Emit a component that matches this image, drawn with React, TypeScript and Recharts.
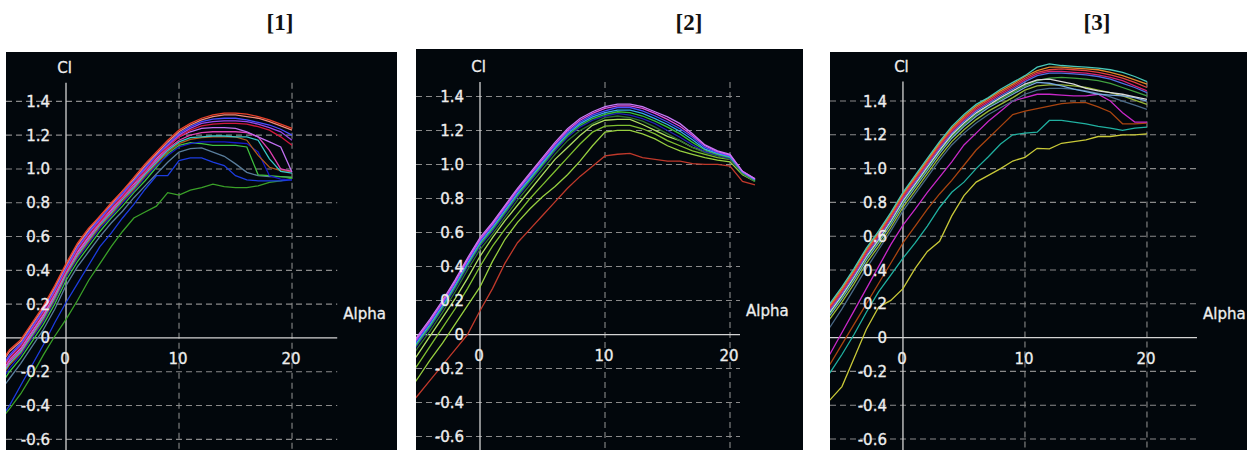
import React from "react";
import { LineChart, Line, XAxis, YAxis, ReferenceLine, ReferenceDot } from "recharts";

// ---- shared axis ticks ----
const clTicks = [1.4, 1.2, 1.0, 0.8, 0.6, 0.4, 0.2, 0, -0.2, -0.4, -0.6];
const clTickLabels = ["1.4", "1.2", "1.0", "0.8", "0.6", "0.4", "0.2", "0", "-0.2", "-0.4", "-0.6"];
const alphaTicks = [0, 10, 20];
const alphaTickLabels = ["0", "10", "20"];

// ---- polar [1] ----
const alpha1 = [-6, -5, -4, -3, -2, -1, 0, 1, 2, 3, 4, 5, 6, 7, 8, 9, 10, 11, 12, 13, 14, 15, 16, 17, 18, 19, 20];
const p1GreenLow = [-0.50, -0.42, -0.33, -0.22, -0.10, 0.01, 0.11, 0.22, 0.34, 0.44, 0.54, 0.63, 0.71, 0.745, 0.78, 0.86, 0.845, 0.875, 0.89, 0.91, 0.895, 0.89, 0.89, 0.90, 0.92, 0.93, 0.945];
const p1BlueLow = [-0.50, -0.40, -0.28, -0.16, -0.04, 0.09, 0.21, 0.32, 0.43, 0.54, 0.62, 0.71, 0.79, 0.88, 0.96, 0.96, 1.05, 1.065, 1.065, 1.04, 1.02, 0.96, 0.935, 0.93, 0.93, 0.93, 0.935];
const p1Slate = [-0.33, -0.24, -0.15, -0.05, 0.05, 0.17, 0.31, 0.42, 0.51, 0.60, 0.68, 0.75, 0.83, 0.90, 0.97, 1.04, 1.10, 1.12, 1.125, 1.10, 1.075, 1.03, 0.98, 0.96, 0.955, 0.955, 0.95];
const p1Green = [-0.30, -0.20, -0.12, -0.02, 0.08, 0.20, 0.34, 0.45, 0.54, 0.63, 0.71, 0.78, 0.86, 0.93, 1.01, 1.09, 1.14, 1.155, 1.15, 1.14, 1.14, 1.14, 1.13, 0.965, 0.96, 0.955, 0.95];
const p1Navy = [-0.28, -0.18, -0.10, 0.0, 0.10, 0.22, 0.36, 0.47, 0.56, 0.65, 0.72, 0.80, 0.87, 0.95, 1.02, 1.08, 1.13, 1.15, 1.16, 1.16, 1.16, 1.155, 1.15, 1.10, 0.96, 0.94, 0.935];
const p1Brown = [-0.26, -0.16, -0.09, 0.01, 0.11, 0.23, 0.37, 0.48, 0.57, 0.66, 0.73, 0.81, 0.88, 0.96, 1.03, 1.10, 1.15, 1.175, 1.185, 1.19, 1.19, 1.19, 1.17, 1.08, 1.01, 0.99, 0.985];
const p1Teal = [-0.25, -0.15, -0.08, 0.02, 0.12, 0.24, 0.38, 0.49, 0.58, 0.67, 0.74, 0.82, 0.89, 0.97, 1.04, 1.11, 1.16, 1.185, 1.19, 1.195, 1.195, 1.19, 1.19, 1.17, 1.06, 0.985, 0.975];
const p1Pink = [-0.24, -0.14, -0.07, 0.03, 0.13, 0.25, 0.39, 0.50, 0.59, 0.68, 0.75, 0.83, 0.90, 0.98, 1.05, 1.12, 1.17, 1.20, 1.215, 1.22, 1.22, 1.22, 1.215, 1.19, 1.11, 1.00, 0.985];
const p1Violet = [-0.23, -0.13, -0.06, 0.04, 0.14, 0.26, 0.40, 0.51, 0.60, 0.69, 0.76, 0.84, 0.91, 0.99, 1.06, 1.13, 1.19, 1.22, 1.24, 1.245, 1.245, 1.24, 1.22, 1.19, 1.16, 1.13, 0.98];
const p1Crimson = [-0.22, -0.12, -0.05, 0.05, 0.15, 0.27, 0.40, 0.52, 0.61, 0.69, 0.77, 0.84, 0.92, 0.99, 1.07, 1.13, 1.19, 1.23, 1.255, 1.265, 1.27, 1.27, 1.265, 1.25, 1.23, 1.19, 1.14];
const p1Purple = [-0.21, -0.11, -0.04, 0.06, 0.16, 0.28, 0.41, 0.53, 0.62, 0.70, 0.78, 0.85, 0.93, 1.00, 1.08, 1.14, 1.20, 1.24, 1.27, 1.28, 1.285, 1.285, 1.28, 1.265, 1.245, 1.22, 1.17];
const p1Blue = [-0.20, -0.10, -0.03, 0.07, 0.17, 0.29, 0.42, 0.54, 0.63, 0.71, 0.78, 0.86, 0.93, 1.01, 1.08, 1.15, 1.21, 1.25, 1.28, 1.295, 1.30, 1.30, 1.29, 1.275, 1.26, 1.235, 1.20];
const p1Salmon = [-0.18, -0.08, -0.02, 0.08, 0.18, 0.30, 0.43, 0.55, 0.64, 0.72, 0.79, 0.87, 0.94, 1.02, 1.09, 1.16, 1.22, 1.26, 1.29, 1.31, 1.32, 1.32, 1.31, 1.30, 1.28, 1.255, 1.23];
const p1Red = [-0.17, -0.07, -0.01, 0.09, 0.19, 0.31, 0.44, 0.56, 0.65, 0.72, 0.80, 0.87, 0.95, 1.03, 1.10, 1.17, 1.23, 1.27, 1.30, 1.32, 1.33, 1.33, 1.325, 1.31, 1.29, 1.265, 1.24];

// ---- polar [2] ----
const alpha2 = [-6, -5, -4, -3, -2, -1, 0, 1, 2, 3, 4, 5, 6, 7, 8, 9, 10, 11, 12, 13, 14, 15, 16, 17, 18, 19, 20, 21, 22];
const p2Red = [-0.45, -0.36, -0.27, -0.18, -0.09, 0.0, 0.14, 0.27, 0.42, 0.54, 0.62, 0.70, 0.78, 0.86, 0.93, 0.99, 1.05, 1.06, 1.065, 1.04, 1.03, 1.02, 1.02, 1.005, 1.0, 1.0, 0.99, 0.90, 0.88];
const p2YellowGreen = [-0.36, -0.26, -0.15, -0.05, 0.06, 0.17, 0.28, 0.43, 0.56, 0.66, 0.74, 0.81, 0.87, 0.94, 1.02, 1.11, 1.19, 1.20, 1.20, 1.18, 1.15, 1.11, 1.08, 1.06, 1.04, 1.025, 1.015, 0.94, 0.90];
const p2Olive = [-0.28, -0.18, -0.07, 0.04, 0.15, 0.27, 0.40, 0.52, 0.62, 0.71, 0.80, 0.88, 0.96, 1.04, 1.12, 1.19, 1.225, 1.23, 1.23, 1.21, 1.18, 1.14, 1.11, 1.08, 1.06, 1.04, 1.03, 0.95, 0.905];
const p2Lime = [-0.22, -0.12, -0.01, 0.10, 0.21, 0.33, 0.46, 0.57, 0.67, 0.76, 0.85, 0.94, 1.03, 1.10, 1.17, 1.23, 1.26, 1.265, 1.265, 1.235, 1.20, 1.165, 1.14, 1.10, 1.075, 1.06, 1.05, 0.95, 0.91];
const p2DarkGreen = [-0.19, -0.08, 0.02, 0.13, 0.25, 0.38, 0.50, 0.59, 0.69, 0.79, 0.88, 0.97, 1.06, 1.14, 1.20, 1.24, 1.275, 1.285, 1.275, 1.255, 1.22, 1.18, 1.14, 1.10, 1.07, 1.05, 1.03, 0.945, 0.90];
const p2Navy = [-0.17, -0.06, 0.04, 0.15, 0.27, 0.40, 0.52, 0.61, 0.71, 0.81, 0.90, 0.99, 1.08, 1.16, 1.22, 1.26, 1.285, 1.30, 1.29, 1.27, 1.24, 1.20, 1.16, 1.115, 1.075, 1.055, 1.035, 0.95, 0.905];
const p2Green = [-0.16, -0.05, 0.05, 0.16, 0.28, 0.41, 0.53, 0.62, 0.72, 0.82, 0.91, 1.00, 1.09, 1.17, 1.23, 1.27, 1.295, 1.31, 1.305, 1.285, 1.255, 1.22, 1.18, 1.13, 1.085, 1.06, 1.04, 0.95, 0.905];
const p2Cyan = [-0.15, -0.04, 0.06, 0.17, 0.29, 0.42, 0.54, 0.63, 0.73, 0.83, 0.92, 1.01, 1.10, 1.18, 1.24, 1.28, 1.305, 1.32, 1.32, 1.30, 1.27, 1.235, 1.195, 1.145, 1.09, 1.065, 1.045, 0.955, 0.91];
const p2Blue = [-0.14, -0.03, 0.07, 0.18, 0.30, 0.43, 0.55, 0.64, 0.74, 0.84, 0.93, 1.02, 1.11, 1.19, 1.25, 1.29, 1.315, 1.335, 1.335, 1.315, 1.285, 1.25, 1.21, 1.16, 1.10, 1.07, 1.05, 0.955, 0.91];
const p2Magenta = [-0.13, -0.02, 0.08, 0.19, 0.31, 0.44, 0.56, 0.65, 0.75, 0.85, 0.94, 1.03, 1.12, 1.20, 1.26, 1.30, 1.33, 1.345, 1.345, 1.33, 1.30, 1.265, 1.225, 1.17, 1.11, 1.075, 1.055, 0.96, 0.915];
const p2Violet = [-0.12, -0.01, 0.09, 0.20, 0.32, 0.45, 0.57, 0.66, 0.76, 0.86, 0.95, 1.04, 1.13, 1.21, 1.27, 1.31, 1.34, 1.355, 1.355, 1.34, 1.31, 1.28, 1.24, 1.18, 1.115, 1.08, 1.06, 0.96, 0.915];

// ---- polar [3] ----
const alpha3 = [-6, -5, -4, -3, -2, -1, 0, 1, 2, 3, 4, 5, 6, 7, 8, 9, 10, 11, 12, 13, 14, 15, 16, 17, 18, 19, 20];
const p3Yellow = [-0.37, -0.29, -0.12, 0.05, 0.18, 0.22, 0.29, 0.41, 0.51, 0.57, 0.72, 0.84, 0.92, 0.96, 1.00, 1.045, 1.067, 1.12, 1.117, 1.15, 1.16, 1.17, 1.19, 1.19, 1.20, 1.20, 1.205];
const p3SeaGreen = [-0.21, -0.10, 0.02, 0.15, 0.27, 0.37, 0.47, 0.56, 0.66, 0.77, 0.86, 0.92, 1.00, 1.07, 1.145, 1.20, 1.21, 1.216, 1.285, 1.285, 1.275, 1.265, 1.25, 1.24, 1.226, 1.24, 1.245];
const p3Brown = [-0.16, -0.04, 0.08, 0.20, 0.32, 0.44, 0.56, 0.66, 0.76, 0.85, 0.93, 1.02, 1.11, 1.18, 1.25, 1.32, 1.34, 1.355, 1.37, 1.385, 1.39, 1.39, 1.365, 1.335, 1.265, 1.265, 1.27];
const p3Magenta = [-0.10, 0.03, 0.16, 0.29, 0.42, 0.55, 0.665, 0.76, 0.86, 0.95, 1.04, 1.14, 1.21, 1.28, 1.34, 1.40, 1.42, 1.44, 1.44, 1.435, 1.43, 1.43, 1.44, 1.40, 1.33, 1.275, 1.275];
const p3Slate = [0.06, 0.17, 0.29, 0.41, 0.52, 0.63, 0.75, 0.85, 0.95, 1.05, 1.14, 1.21, 1.27, 1.32, 1.36, 1.40, 1.44, 1.465, 1.475, 1.475, 1.47, 1.46, 1.445, 1.425, 1.40, 1.375, 1.35];
const p3Olive = [0.11, 0.21, 0.32, 0.44, 0.54, 0.65, 0.77, 0.87, 0.97, 1.07, 1.16, 1.23, 1.29, 1.34, 1.38, 1.42, 1.465, 1.49, 1.495, 1.495, 1.49, 1.48, 1.465, 1.45, 1.43, 1.405, 1.38];
const p3Sky = [0.13, 0.23, 0.34, 0.46, 0.56, 0.67, 0.79, 0.89, 0.99, 1.09, 1.18, 1.25, 1.31, 1.36, 1.40, 1.44, 1.48, 1.51, 1.505, 1.49, 1.47, 1.455, 1.44, 1.435, 1.43, 1.42, 1.40];
const p3Green = [0.14, 0.24, 0.35, 0.47, 0.57, 0.68, 0.80, 0.90, 1.00, 1.10, 1.19, 1.26, 1.32, 1.37, 1.41, 1.45, 1.49, 1.52, 1.535, 1.54, 1.535, 1.53, 1.52, 1.505, 1.48, 1.455, 1.43];
const p3White = [0.15, 0.25, 0.36, 0.48, 0.58, 0.69, 0.81, 0.91, 1.01, 1.11, 1.20, 1.27, 1.33, 1.375, 1.42, 1.46, 1.50, 1.525, 1.53, 1.515, 1.50, 1.475, 1.46, 1.45, 1.44, 1.425, 1.41];
const p3Blue = [0.16, 0.26, 0.37, 0.49, 0.59, 0.70, 0.82, 0.92, 1.02, 1.12, 1.21, 1.28, 1.34, 1.385, 1.43, 1.47, 1.515, 1.55, 1.565, 1.565, 1.56, 1.555, 1.545, 1.53, 1.505, 1.48, 1.45];
const p3Crimson = [0.17, 0.27, 0.38, 0.50, 0.60, 0.71, 0.83, 0.93, 1.03, 1.13, 1.22, 1.29, 1.35, 1.395, 1.44, 1.48, 1.525, 1.56, 1.575, 1.575, 1.57, 1.565, 1.555, 1.54, 1.52, 1.49, 1.46];
const p3Red = [0.18, 0.28, 0.39, 0.51, 0.61, 0.72, 0.84, 0.94, 1.04, 1.14, 1.23, 1.30, 1.36, 1.405, 1.45, 1.49, 1.535, 1.57, 1.585, 1.59, 1.585, 1.58, 1.57, 1.555, 1.535, 1.51, 1.48];
const p3Orange = [0.19, 0.29, 0.40, 0.52, 0.62, 0.73, 0.85, 0.95, 1.05, 1.15, 1.24, 1.31, 1.37, 1.415, 1.46, 1.50, 1.545, 1.58, 1.60, 1.60, 1.595, 1.59, 1.585, 1.57, 1.55, 1.525, 1.50];
const p3Teal = [0.20, 0.30, 0.41, 0.53, 0.63, 0.74, 0.86, 0.96, 1.06, 1.16, 1.25, 1.32, 1.38, 1.42, 1.47, 1.51, 1.55, 1.60, 1.62, 1.61, 1.605, 1.60, 1.595, 1.585, 1.57, 1.545, 1.515];

type Curve = { key: string; color: string; values: number[] };

type PanelSpec = {
  title: string;
  titleX: number;
  left: number;
  top: number;
  width: number;
  height: number;
  xDomain: [number, number];
  yDomain: [number, number];
  gridRight: number;
  axisTop: number;
  alpha: number[];
  curves: Curve[];
};

const panels: PanelSpec[] = [
  {
    title: "[1]", titleX: 280,
    left: 6, top: 52, width: 391, height: 398,
    xDomain: [-5.31, 29.29], yDomain: [-0.663, 1.692],
    gridRight: 24, axisTop: 1.51,
    alpha: alpha1,
    curves: [
      { key: "greenLow", color: "#3aa028", values: p1GreenLow },
      { key: "blueLow", color: "#1c3ce0", values: p1BlueLow },
      { key: "slate", color: "#5a7e9c", values: p1Slate },
      { key: "green", color: "#40c040", values: p1Green },
      { key: "navy", color: "#1818c8", values: p1Navy },
      { key: "brown", color: "#b05a1c", values: p1Brown },
      { key: "teal", color: "#38c8c8", values: p1Teal },
      { key: "pink", color: "#e040b0", values: p1Pink },
      { key: "violet", color: "#c070f0", values: p1Violet },
      { key: "crimson", color: "#d0183c", values: p1Crimson },
      { key: "purple", color: "#9a48e8", values: p1Purple },
      { key: "blue", color: "#4a4cff", values: p1Blue },
      { key: "salmon", color: "#f08a78", values: p1Salmon },
      { key: "red", color: "#e8402a", values: p1Red },
    ],
  },
  {
    title: "[2]", titleX: 689,
    left: 416, top: 49, width: 387, height: 401,
    xDomain: [-5.12, 25.84], yDomain: [-0.679, 1.679],
    gridRight: 20.8, axisTop: 1.485,
    alpha: alpha2,
    curves: [
      { key: "red", color: "#c0392b", values: p2Red },
      { key: "yellowGreen", color: "#98d040", values: p2YellowGreen },
      { key: "olive", color: "#80c030", values: p2Olive },
      { key: "lime", color: "#b0e060", values: p2Lime },
      { key: "darkGreen", color: "#2f6f2f", values: p2DarkGreen },
      { key: "navy", color: "#2020b0", values: p2Navy },
      { key: "green", color: "#38c038", values: p2Green },
      { key: "cyan", color: "#38a8e8", values: p2Cyan },
      { key: "blue", color: "#4a50ff", values: p2Blue },
      { key: "magenta", color: "#e050e0", values: p2Magenta },
      { key: "violet", color: "#c878f8", values: p2Violet },
    ],
  },
  {
    title: "[3]", titleX: 1097,
    left: 830, top: 52, width: 417, height: 398,
    xDomain: [-5.98, 28.2], yDomain: [-0.665, 1.69],
    gridRight: 24.1, axisTop: 1.515,
    alpha: alpha3,
    curves: [
      { key: "yellow", color: "#c8c838", values: p3Yellow },
      { key: "seaGreen", color: "#20b0a0", values: p3SeaGreen },
      { key: "brown", color: "#a84410", values: p3Brown },
      { key: "magenta", color: "#c828c8", values: p3Magenta },
      { key: "slate", color: "#4a6a88", values: p3Slate },
      { key: "olive", color: "#98b838", values: p3Olive },
      { key: "sky", color: "#78a8e0", values: p3Sky },
      { key: "green", color: "#40a040", values: p3Green },
      { key: "white", color: "#d8d8d8", values: p3White },
      { key: "blue", color: "#5070e0", values: p3Blue },
      { key: "crimson", color: "#d02070", values: p3Crimson },
      { key: "red", color: "#e04040", values: p3Red },
      { key: "orange", color: "#e08828", values: p3Orange },
      { key: "teal", color: "#48c8b8", values: p3Teal },
    ],
  },
];

const BG = "#02070c";
const GRID = "#8a8a8a";
const AXIS = "#d4d4d4";
const TEXT = "#eeeeee";
const FONT = "'DejaVu Sans', Verdana, sans-serif";

// label renderer anchored on a ReferenceDot's position
const textAt =
  (text: string, dx: number, dy: number, anchor: "start" | "middle" | "end") =>
  (props: any) => {
    const vb = props.viewBox ?? {};
    const x = (vb.x ?? 0) + (vb.width ?? 0) / 2 + dx;
    const y = (vb.y ?? 0) + (vb.height ?? 0) / 2 + dy;
    return (
      <text
        x={x}
        y={y}
        textAnchor={anchor}
        fill={TEXT}
        stroke={TEXT}
        strokeWidth={0.3}
        fontSize={15}
        fontFamily={FONT}
      >
        {text}
      </text>
    );
  };

function Panel({ spec }: { spec: PanelSpec }) {
  const rows = spec.alpha.map((a, i) => {
    const row: Record<string, number> = { alpha: a };
    spec.curves.forEach((c) => {
      row[c.key] = c.values[i];
    });
    return row;
  });
  const [xMin] = spec.xDomain;
  const [yMin] = spec.yDomain;

  return (
    <div
      style={{
        position: "absolute",
        left: spec.left,
        top: spec.top,
        width: spec.width,
        height: spec.height,
        background: BG,
        overflow: "hidden",
      }}
    >
      <LineChart width={spec.width} height={spec.height} data={rows} margin={{ top: 0, right: 0, bottom: 0, left: 0 }}>
        <XAxis type="number" dataKey="alpha" domain={spec.xDomain} allowDataOverflow hide />
        <YAxis type="number" domain={spec.yDomain} allowDataOverflow hide />

        {clTicks
          .filter((v) => v !== 0)
          .map((v) => (
            <ReferenceLine
              key={`h${v}`}
              segment={[{ x: xMin, y: v }, { x: spec.gridRight, y: v }]}
              stroke={GRID}
              strokeWidth={1.1}
              strokeDasharray="6 4"
            />
          ))}
        {alphaTicks
          .filter((v) => v !== 0)
          .map((v) => (
            <ReferenceLine
              key={`v${v}`}
              segment={[{ x: v, y: spec.axisTop }, { x: v, y: yMin }]}
              stroke={GRID}
              strokeWidth={1.1}
              strokeDasharray="6 4"
            />
          ))}
        <ReferenceLine segment={[{ x: xMin, y: 0 }, { x: spec.gridRight, y: 0 }]} stroke={AXIS} strokeWidth={1.3} />
        <ReferenceLine segment={[{ x: 0, y: spec.axisTop }, { x: 0, y: yMin }]} stroke={AXIS} strokeWidth={1.3} />

        {clTicks.map((v, i) => (
          <ReferenceDot key={`yl${v}`} x={0} y={v} r={0} fill="none" stroke="none" label={textAt(clTickLabels[i], -16, 5.5, "end")} />
        ))}
        {alphaTicks.map((v, i) => (
          <ReferenceDot key={`xl${v}`} x={v} y={0} r={0} fill="none" stroke="none" label={textAt(alphaTickLabels[i], -1, 26, "middle")} />
        ))}
        <ReferenceDot x={0} y={spec.axisTop} r={0} fill="none" stroke="none" label={textAt("Cl", -1.5, -9.5, "middle")} />
        <ReferenceDot x={spec.gridRight} y={0} r={0} fill="none" stroke="none" label={textAt("Alpha", 6, -18.5, "start")} />

        {spec.curves.map((c) => (
          <Line
            key={c.key}
            type="linear"
            dataKey={c.key}
            stroke={c.color}
            strokeWidth={1.3}
            dot={false}
            activeDot={false}
            isAnimationActive={false}
          />
        ))}
      </LineChart>
    </div>
  );
}

export default function App() {
  return (
    <div
      style={{
        position: "absolute",
        left: 0,
        top: 0,
        width: 1247,
        height: 450,
        background: "#ffffff",
        overflow: "hidden",
      }}
    >
      {panels.map((p) => (
        <div
          key={`t${p.title}`}
          style={{
            position: "absolute",
            left: p.titleX - 40,
            top: 11,
            width: 80,
            textAlign: "center",
            fontFamily: "'Liberation Serif', serif",
            fontWeight: "bold",
            fontSize: 23,
            lineHeight: "23px",
            color: "#111",
          }}
        >
          {p.title}
        </div>
      ))}
      {panels.map((p) => (
        <Panel key={p.title} spec={p} />
      ))}
    </div>
  );
}
